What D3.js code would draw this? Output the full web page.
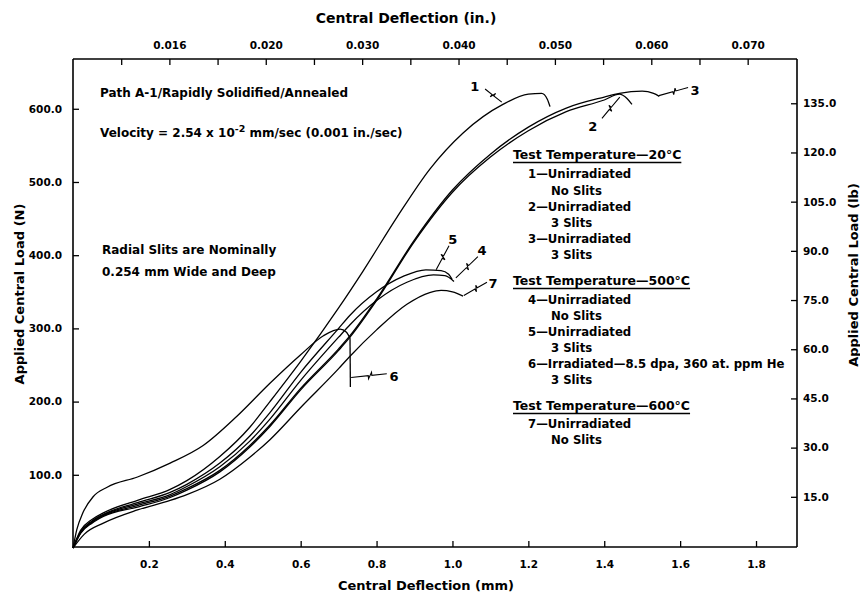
<!DOCTYPE html>
<html>
<head>
<meta charset="utf-8">
<script src="https://cdn.jsdelivr.net/npm/d3@7"></script>
<style>
  body { margin: 0; background: #fff; }
  svg text { font-family: "DejaVu Sans", "Liberation Sans", Arial, sans-serif; font-weight: bold; fill: #000; }
</style>
</head>
<body>
<div id="chart"></div>
<script>
// curves: [deflection mm, load N]
const curve1 = [[0,0],[0.02,24],[0.05,39],[0.08,48],[0.17,65],[0.256,80],[0.3,92],[0.387,125],[0.466,165],[0.519,200],
  [0.6,255],[0.7,328],[0.764,378],[0.854,452],[0.941,518],[1.028,567],[1.133,606],[1.2,620],[1.235,621],[1.25,613],[1.257,603]];
const curve2 = [[0,0],[0.02,20],[0.05,34],[0.08,43],[0.17,56],[0.256,69],[0.3,79],[0.387,104],[0.466,138],[0.519,166],
  [0.6,216],[0.7,270],[0.73,288],[0.8,338],[0.9,419],[1.0,486],[1.1,534],[1.2,570],[1.3,596],[1.4,612],[1.44,620],[1.46,614],[1.473,606]];
const curve3 = [[0,0],[0.02,21],[0.05,35],[0.08,44],[0.17,58],[0.256,71],[0.3,81],[0.387,106],[0.466,140],[0.519,168],
  [0.6,218],[0.7,272],[0.73,290],[0.8,340],[0.9,421],[1.0,489],[1.1,538],[1.2,575],[1.3,601],[1.4,616],[1.44,621],[1.5,624],[1.53,621],[1.545,617]];
const curve4 = [[0,0],[0.02,21],[0.05,36],[0.08,45],[0.17,60],[0.256,73],[0.3,84],[0.387,111],[0.466,146],[0.519,176],
  [0.6,229],[0.7,288],[0.73,305],[0.8,338],[0.88,363],[0.95,373],[0.98,372],[1.004,364]];
const curve5 = [[0,0],[0.02,22],[0.05,37],[0.08,46],[0.17,62],[0.256,76],[0.3,87],[0.387,116],[0.466,153],[0.519,185],
  [0.6,240],[0.7,300],[0.73,318],[0.8,350],[0.87,371],[0.93,380],[0.97,379],[0.99,374],[0.999,367]];
const curve6 = [[0,0],[0.01,25],[0.026,48],[0.053,70],[0.09,83],[0.17,97],[0.256,116],[0.343,140],[0.432,180],
  [0.519,225],[0.6,264],[0.66,290],[0.704,299],[0.72,295],[0.73,287]];
const curve6Drop = [[0.73,287],[0.731,220]];
const curve7 = [[0,0],[0.03,19],[0.08,34],[0.17,52],[0.256,65],[0.3,73],[0.387,94],[0.466,124],[0.519,148],[0.6,192],
  [0.7,245],[0.73,262],[0.8,298],[0.88,333],[0.94,349],[0.97,352],[1.0,350],[1.028,344]];
const curves = [curve1, curve2, curve3, curve4, curve5, curve6, curve7];

// curve number labels: text, label position, leader start, leader end (mm, N)
const curveLabels = [
  {t: "1", at: [1.059, 631], from: [1.086, 627], to: [1.130, 609]},
  {t: "2", at: [1.370, 576], from: [1.394, 587], to: [1.441, 616]},
  {t: "3", at: [1.639, 625], from: [1.621, 629], to: [1.544, 618]},
  {t: "5", at: [1.001, 421], from: [0.991, 413], to: [0.957, 380]},
  {t: "4", at: [1.078, 406], from: [1.067, 398], to: [1.009, 369]},
  {t: "7", at: [1.107, 362], from: [1.091, 363], to: [1.030, 345]},
  {t: "6", at: [0.846, 235], from: [0.827, 238], to: [0.733, 233]}
];

const bottomTicks = [0.2, 0.4, 0.6, 0.8, 1.0, 1.2, 1.4, 1.6, 1.8];
const leftTicks = [100, 200, 300, 400, 500, 600];
const rightTicks = [15, 30, 45, 60, 75, 90, 105, 120, 135];
const topTicks = [0.005, 0.01, 0.015, 0.02, 0.025, 0.03, 0.035, 0.04, 0.045, 0.05, 0.055, 0.06, 0.065, 0.07];
const topLabelValues = [0.01, 0.02, 0.03, 0.04, 0.05, 0.06, 0.07];
const topLabelText = ["0.016", "0.020", "0.030", "0.040", "0.050", "0.060", "0.070"];

const legendLines = [
  {t: "Test Temperature\u201420\u00b0C", head: true},
  {t: "1\u2014Unirradiated"}, {t: "No Slits", cont: true},
  {t: "2\u2014Unirradiated"}, {t: "3 Slits", cont: true},
  {t: "3\u2014Unirradiated"}, {t: "3 Slits", cont: true},
  {t: "Test Temperature\u2014500\u00b0C", head: true},
  {t: "4\u2014Unirradiated"}, {t: "No Slits", cont: true},
  {t: "5\u2014Unirradiated"}, {t: "3 Slits", cont: true},
  {t: "6\u2014Irradiated\u20148.5 dpa, 360 at. ppm He"}, {t: "3 Slits", cont: true},
  {t: "Test Temperature\u2014600\u00b0C", head: true},
  {t: "7\u2014Unirradiated"}, {t: "No Slits", cont: true}
];

const width = 860, height = 593;
const svg = d3.select('#chart').append('svg')
  .attr('width', width)
  .attr('height', height);

const margin = {left: 73, right: 797, top: 59, bottom: 548};
const x = d3.scaleLinear().domain([0, 1.908]).range([margin.left, margin.right]);
const xIn = d3.scaleLinear().domain([0, 1.908 / 25.4]).range([margin.left, margin.right]);
const y = d3.scaleLinear().domain([0, 668]).range([margin.bottom, margin.top]);
const yLb = d3.scaleLinear().domain([0, 148.5]).range([margin.bottom - 2, margin.top]);

// axes
const xAxis = d3.axisBottom(x).tickValues(bottomTicks).tickFormat(d3.format('.1f'))
  .tickSizeInner(-6).tickSizeOuter(0).tickPadding(14);
const yAxis = d3.axisLeft(y).tickValues(leftTicks).tickFormat(d3.format('.1f'))
  .tickSizeInner(-6).tickSizeOuter(0).tickPadding(11);
const yAxisR = d3.axisRight(yLb).tickValues(rightTicks).tickFormat(d3.format('.1f'))
  .tickSizeInner(-6).tickSizeOuter(0).tickPadding(6);
const xAxisTop = d3.axisTop(xIn).tickValues(topTicks)
  .tickFormat(d => {
    const i = topLabelValues.findIndex(v => Math.abs(v - d) < 1e-9);
    return i >= 0 ? topLabelText[i] : '';
  })
  .tickSizeInner(-6).tickSizeOuter(0).tickPadding(10);

const gx = svg.append('g').attr('transform', `translate(0,${margin.bottom - 1})`).call(xAxis);
const gy = svg.append('g').attr('transform', `translate(${margin.left},0)`).call(yAxis);
const gyr = svg.append('g').attr('transform', `translate(${margin.right},0)`).call(yAxisR);
const gxt = svg.append('g').attr('transform', `translate(0,${margin.top})`).call(xAxisTop);

// frame lines span the whole plot box
gyr.select('.domain').attr('d', `M0,${margin.top}V${margin.bottom - 1}`);
gy.select('.domain').attr('d', `M0,${margin.top}V${margin.bottom - 1}`);
gx.select('.domain').attr('d', `M${margin.left},0H${margin.right}`);
gxt.select('.domain').attr('d', `M${margin.left},0H${margin.right}`);

[gx, gy, gyr, gxt].forEach(g => {
  g.attr('font-family', null).attr('font-size', 10.5);
  g.selectAll('.domain').attr('stroke', '#000').attr('stroke-width', 1.6);
  g.selectAll('.tick line').attr('stroke', '#000').attr('stroke-width', 1.3);
});

// axis titles
svg.append('text').attr('x', 406).attr('y', 23).attr('text-anchor', 'middle')
  .attr('font-size', 14).text('Central Deflection (in.)');
svg.append('text').attr('x', 426).attr('y', 590).attr('text-anchor', 'middle')
  .attr('font-size', 13).text('Central Deflection (mm)');
svg.append('text').attr('transform', 'translate(24,294) rotate(-90)').attr('text-anchor', 'middle')
  .attr('font-size', 13).text('Applied Central Load (N)');
svg.append('text').attr('transform', 'translate(858,275) rotate(-90)').attr('text-anchor', 'middle')
  .attr('font-size', 13).text('Applied Central Load (lb)');

// curves
const line = d3.line()
  .x(d => x(d[0]))
  .y(d => y(d[1]))
  .curve(d3.curveMonotoneX);

svg.append('g').selectAll('path.curve')
  .data(curves)
  .join('path')
  .attr('class', 'curve')
  .attr('fill', 'none')
  .attr('stroke', '#000')
  .attr('stroke-width', 1.3)
  .attr('d', line);

svg.append('path')
  .datum(curve6Drop)
  .attr('fill', 'none')
  .attr('stroke', '#000')
  .attr('stroke-width', 1.3)
  .attr('d', d3.line().x(d => x(d[0])).y(d => y(d[1])));

// squiggly leader lines
const leader = (a, b) => {
  const x0 = x(a[0]), y0 = y(a[1]), x1 = x(b[0]), y1 = y(b[1]);
  const dx = x1 - x0, dy = y1 - y0, len = Math.hypot(dx, dy);
  const nx = -dy / len, ny = dx / len;
  const p = t => [x0 + dx * t, y0 + dy * t];
  const m1 = p(0.42), m2 = p(0.52);
  return [[x0, y0], m1, [m1[0] + nx * 3, m1[1] + ny * 3], [m2[0] - nx * 3, m2[1] - ny * 3], m2, [x1, y1]];
};

svg.append('g').selectAll('path.leader')
  .data(curveLabels)
  .join('path')
  .attr('class', 'leader')
  .attr('fill', 'none')
  .attr('stroke', '#000')
  .attr('stroke-width', 1.1)
  .attr('d', d => d3.line()(leader(d.from, d.to)));

svg.append('g').selectAll('text.num')
  .data(curveLabels)
  .join('text')
  .attr('class', 'num')
  .attr('x', d => x(d.at[0]))
  .attr('y', d => y(d.at[1]))
  .attr('dy', '0.35em')
  .attr('text-anchor', 'middle')
  .attr('font-size', 13)
  .text(d => d.t);

// notes
svg.append('text').attr('x', 100).attr('y', 97).attr('font-size', 12)
  .text('Path A-1/Rapidly Solidified/Annealed');
const vel = svg.append('text').attr('x', 100).attr('y', 137).attr('font-size', 12);
vel.append('tspan').text('Velocity = 2.54 x 10');
vel.append('tspan').attr('dy', -5).attr('font-size', 9.5).text('-2');
vel.append('tspan').attr('dy', 5).text(' mm/sec (0.001 in./sec)');
svg.append('text').attr('x', 102).attr('y', 254).attr('font-size', 12)
  .text('Radial Slits are Nominally');
svg.append('text').attr('x', 102).attr('y', 276).attr('font-size', 12)
  .text('0.254 mm Wide and Deep');

// legend
const legendY = [159, 178, 195, 211, 227, 243, 259, 285, 304, 320, 336, 352, 368, 384, 410, 428, 444];
const legend = svg.append('g');
legendLines.forEach((d, i) => {
  const t = legend.append('text')
    .attr('x', d.head ? 513 : (d.cont ? 551 : 528))
    .attr('y', legendY[i])
    .attr('font-size', d.head ? 12.5 : 11.7)
    .text(d.t);
  if (d.head) {
    const w = t.node().getComputedTextLength();
    legend.append('line')
      .attr('x1', 513).attr('x2', 513 + w)
      .attr('y1', legendY[i] + 3.5).attr('y2', legendY[i] + 3.5)
      .attr('stroke', '#000').attr('stroke-width', 1.5);
  }
});
</script>
</body>
</html>
